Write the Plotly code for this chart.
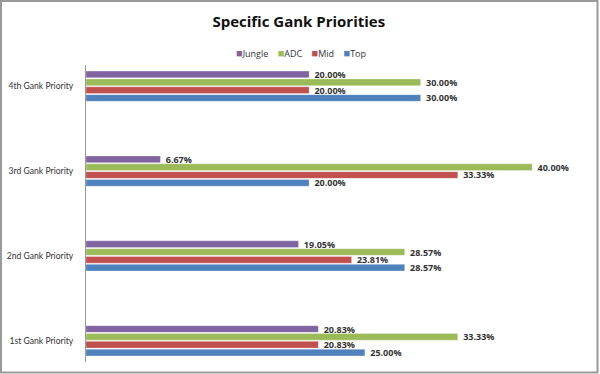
import plotly.graph_objects as go

categories = ["1st Gank Priority", "2nd Gank Priority", "3rd Gank Priority", "4th Gank Priority"]
top = [25.00, 28.57, 20.00, 30.00]
mid = [20.83, 23.81, 33.33, 20.00]
adc = [33.33, 28.57, 40.00, 30.00]
jungle = [20.83, 19.05, 6.67, 20.00]

series = [
    ("Top", top, "#4F81BD"),
    ("Mid", mid, "#C0504D"),
    ("ADC", adc, "#9BBB59"),
    ("Jungle", jungle, "#8064A2"),
]

fig = go.Figure()
for name, vals, color in series:
    fig.add_trace(go.Bar(
        y=categories, x=vals, name=name, orientation="h",
        marker=dict(color=color, line=dict(color="rgba(255,255,255,0.6)", width=0.5)),
        text=[f" {v:.2f}%" for v in vals], textposition="outside",
        constraintext="none",
        textfont=dict(family="Open Sans", size=9, color="#333333", weight="bold"),
        cliponaxis=False, showlegend=False,
    ))

legend_html = "    ".join(
    f"<span style='color:{c};font-size:11px'>■</span>{n}" for n, _, c in reversed(series)
)

W, H = 600, 374
ml, mr, mt, mb = 86, 12, 65, 12
pw, ph = W - ml - mr, H - mt - mb

fig.update_layout(
    width=W, height=H,
    margin=dict(l=ml, r=mr, t=mt, b=mb, autoexpand=False),
    paper_bgcolor="white", plot_bgcolor="white",
    barmode="group", bargap=0.63, bargroupgap=0.15,
    title=dict(text="<b>Specific Gank Priorities</b>", x=0.498, xanchor="center", y=1 - 22 / H, yanchor="middle",
               font=dict(family="Open Sans", size=15, color="#111111")),
    annotations=[dict(text=legend_html, xref="paper", yref="paper",
                      x=(301 - ml) / pw, y=(H - mb - 52) / ph, xanchor="center", yanchor="middle",
                      showarrow=False, font=dict(family="Open Sans", size=9, color="#333333"))],
    xaxis=dict(range=[0, 45], showgrid=False, zeroline=False, showticklabels=False, showline=False,
               ticks="", automargin=False),
    yaxis=dict(range=[-0.25, 3.25], showline=True, linecolor="#999999", linewidth=1,
               ticks="", ticklabelstandoff=10, automargin=False,
               tickfont=dict(family="Lato", size=8.6, color="#333333")),
    shapes=[dict(type="rect", xref="paper", yref="paper",
                 x0=(1 - ml) / pw, x1=(597.5 - ml) / pw,
                 y0=(H - mb - 372.5) / ph, y1=(H - mb - 1) / ph,
                 line=dict(color="#9a9a9a", width=2), fillcolor="rgba(0,0,0,0)")],
)

fig.write_html("out.html", config={"displayModeBar": False},
               post_script="document.body.style.margin='0';document.body.style.overflow='hidden';")
